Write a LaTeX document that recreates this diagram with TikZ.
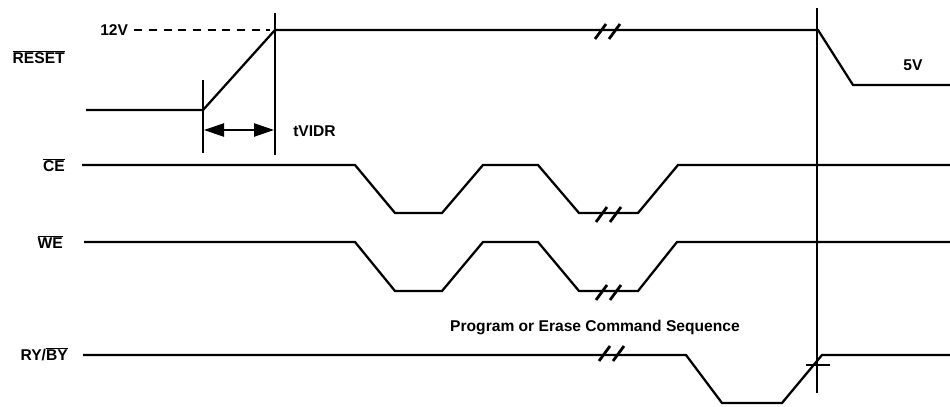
\documentclass[tikz,border=0pt]{standalone}
\usepackage{fontspec}
\setmainfont{Liberation Sans}
\usetikzlibrary{arrows.meta}
\newcommand\ovl[1]{$\overline{\mbox{#1}}$}
\begin{document}
\begin{tikzpicture}[x=0.75pt,y=-0.75pt,
  sig/.style={line width=1.7pt, line join=miter},
  mark line/.style={line width=1.6pt},
  lbl/.style={font=\bfseries\fontsize{11.7}{14}\selectfont, inner sep=0pt},
  brkmark/.style={line width=2.1pt}]
\useasboundingbox (0,0) rectangle (950,407);
\fill[white] (0,0) rectangle (950,407);
% break mark macro
\newcommand\brkat[2]{%
  \draw[brkmark] ({#1-13},{#2+8}) -- ({#1-2},{#2-7});
  \draw[brkmark] ({#1+1},{#2+8}) -- ({#1+12},{#2-7});}
% labels
\node[lbl, anchor=east] (lreset) at (65,57) {\ovl{RESET}};
\node[lbl, anchor=east] (lce) at (65,165) {\ovl{CE}};
\node[lbl, anchor=east] (lwe) at (63,242) {\ovl{WE}};
\node[lbl, anchor=east] (lry) at (68,354) {RY/\ovl{BY}};
\node[lbl, anchor=west] (l12) at (100,30) {12V};
\node[lbl, anchor=center] (l5) at (913,65) {5V};
\node[lbl, anchor=west] (ltv) at (293,131) {tVIDR};
\node[lbl, anchor=center] (lprog) at (595,327) {Program or Erase Command Sequence};
% RESET waveform
\draw[sig] (86,110) -- (203,110) -- (275,30) -- (818,30) -- (853,85) -- (950,85);
\draw[dashed, line width=0.8pt, dash pattern=on 6pt off 5pt] (l12.east) ++(6,0) -- (270,30);
% timing verticals
\draw[mark line] (203,80) -- (203,153);
\draw[mark line] (275,13) -- (275,155);
\draw[mark line] (817,8) -- (817,393);
\coordinate (ta) at (204,130);
\coordinate (tb) at (274,130);
\draw[line width=1pt, {Triangle[length=15pt,width=10pt]}-{Triangle[length=15pt,width=10pt]}] (ta) -- (tb);
% CE
\draw[sig] (82,165) -- (355,165) -- (395,213) -- (442,213) -- (483,165) -- (538,165) -- (579,213) -- (638,213) -- (678,165) -- (950,165);
% WE
\draw[sig] (84,242) -- (355,242) -- (395,291) -- (442,291) -- (483,242) -- (538,242) -- (579,291) -- (638,291) -- (677,242) -- (950,242);
% RY/BY
\draw[sig] (83,355) -- (686,355) -- (722,403) -- (782,403) -- (822,355) -- (950,355);
\draw[mark line] (806,365) -- (830,365);
% break marks
\brkat{608}{31}
\brkat{609}{214}
\brkat{609}{292}
\brkat{612}{353}
\end{tikzpicture}
\end{document}
